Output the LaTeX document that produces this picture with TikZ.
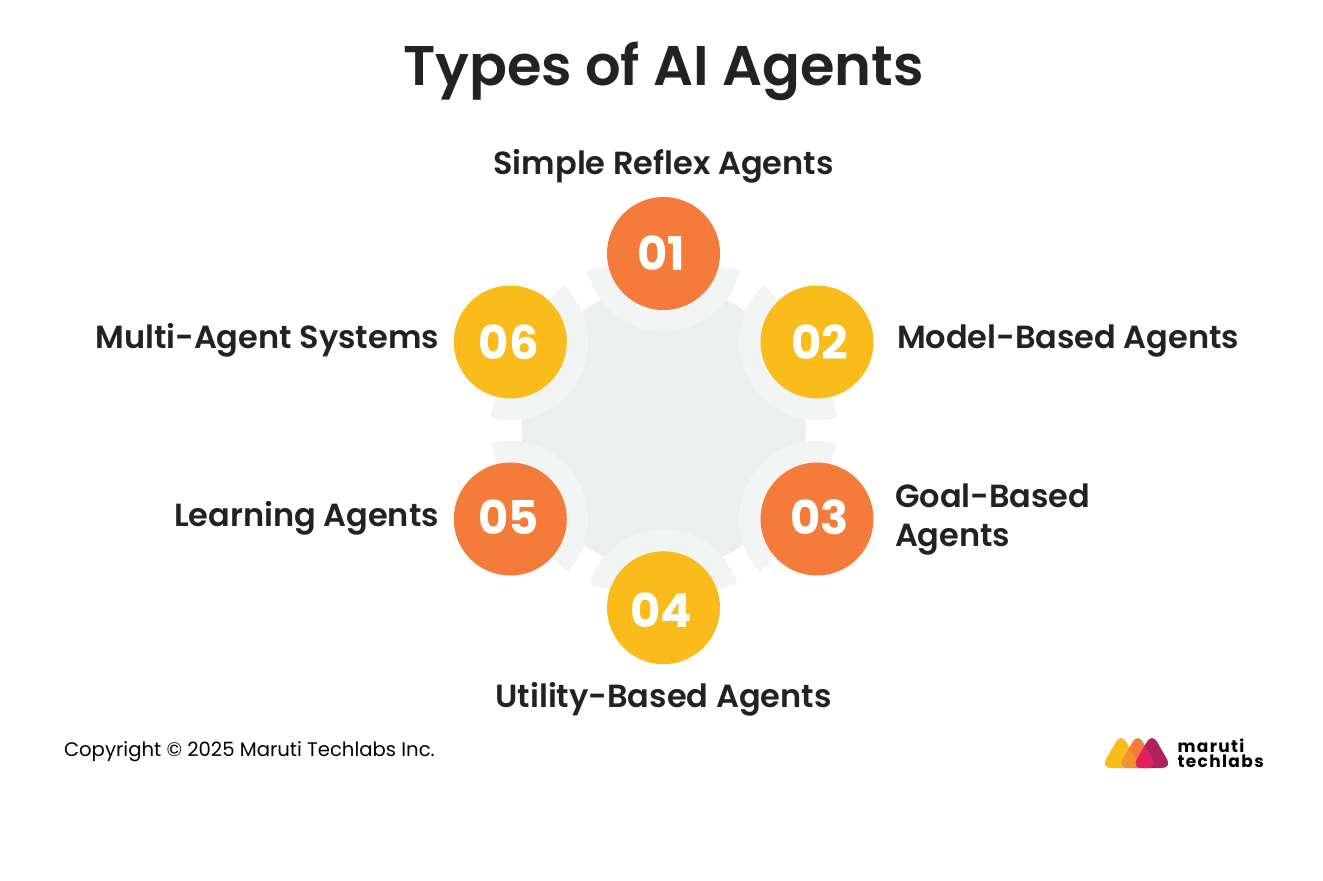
\documentclass[tikz,border=0pt]{standalone}
\usepackage{fontspec}
\setmainfont{Poppins}
\newfontfamily\semi{Poppins SemiBold}
\newfontfamily\logofont[LetterSpace=8]{Poppins Bold}
\usetikzlibrary{calc}
\definecolor{ink}{HTML}{222222}
\definecolor{orangec}{HTML}{F47B3A}
\definecolor{yellowc}{HTML}{F9BC1A}
\definecolor{ringc}{HTML}{F3F5F5}
\definecolor{blobc}{HTML}{EDEEEE}
\definecolor{magc}{HTML}{B0215F}
\definecolor{pinkc}{HTML}{E0205F}
\definecolor{dotc}{HTML}{F0932F}
\newcommand{\ringarc}[4]{%
  \fill[ringc] ($(#1,#2)+(#3-#4:78)$) arc[start angle=#3-#4,end angle=#3+#4,radius=78]
    -- ($(#1,#2)+(#3+#4:56)$) arc[start angle=#3+#4,end angle=#3-#4,radius=56] -- cycle;}
\newcommand{\logotri}[1]{(#1,733) -- ({#1+20},768) -- ({#1-20},768) -- cycle}
\tikzset{
  disc/.style={circle,minimum size=113pt,inner sep=0pt},
  orangedisc/.style={disc,fill=orangec},
  yellowdisc/.style={disc,fill=yellowc},
  num/.style={text=white,inner sep=0pt,font=\fontsize{46.5}{46.5}\selectfont\bfseries},
  lab/.style={text=ink,inner sep=0pt,font=\fontsize{32}{39}\semi},
  titletext/.style={text=ink,inner sep=0pt,font=\fontsize{55.9}{58}\semi},
  logotext/.style={text=black,inner sep=0pt,font=\fontsize{17}{17}\logofont},
}
\begin{document}
\begin{tikzpicture}[x=1pt,y=-1pt,line width=0pt]
\useasboundingbox (0,0) rectangle (1323,881);
\fill[white] (0,0) rectangle (1323,881);
% centre blob
\fill[blobc] (663.7,427.5) circle[radius=142];
% rings, drawn in a y-up frame
\begin{scope}[y=1pt]
\begin{scope}[shift={(0,-881)}]
\ringarc{663.5}{627.5}{270}{77.6}
\ringarc{817}{539}{209}{76}
\ringarc{817}{362}{149}{73.5}
\ringarc{663.5}{273.3}{90}{72}
\ringarc{510.3}{362}{31}{73.5}
\ringarc{510.3}{539}{331}{76}
\end{scope}
\end{scope}
% discs
\node[orangedisc] (n1) at (663.5,253.5) {};
\node[yellowdisc] (n2) at (817,342) {};
\node[orangedisc] (n3) at (817,519) {};
\node[yellowdisc] (n4) at (663.5,607.7) {};
\node[orangedisc] (n5) at (510.3,519) {};
\node[yellowdisc] (n6) at (510.3,342) {};
\node[num] (t1) at (661,253.3) {01};
\node[num] (t2) at (819.5,342) {02};
\node[num] (t3) at (819.5,517.5) {03};
\node[num] (t4) at (661.2,610.5) {04};
\node[num] (t5) at (508.8,517.5) {05};
\node[num] (t6) at (508.7,342) {06};
% title and labels
\node[titletext,anchor=base] (title) at (663.5,85.5) {Types of AI Agents};
\node[lab,anchor=base] (l1) at (663.5,174) {Simple Reflex Agents};
\node[lab,anchor=base west] (l2) at (897,348) {Model-Based Agents};
\node[lab,anchor=base west] (l3a) at (895,507) {Goal-Based};
\node[lab,anchor=base west] (l3b) at (895,546) {Agents};
\node[lab,anchor=base] (l4) at (663.5,707) {Utility-Based Agents};
\node[lab,anchor=base east] (l5) at (439,526) {Learning Agents};
\node[lab,anchor=base east] (l6) at (439,348) {Multi-Agent Systems};
\node[text=black,inner sep=0pt,anchor=base west,font=\fontsize{19.65}{20}\selectfont] (copy) at (64,756) {Copyright © 2025 Maruti Techlabs Inc.};
% logo
\fill[yellowc,rounded corners=10pt] \logotri{1121};
\fill[orangec,rounded corners=10pt] \logotri{1137.7};
\begin{scope}
\clip[rounded corners=10pt] \logotri{1121};
\fill[dotc,rounded corners=10pt] \logotri{1137.7};
\end{scope}
\fill[magc,rounded corners=10pt] \logotri{1152};
\begin{scope}
\clip[rounded corners=10pt] \logotri{1137.7};
\fill[pinkc,rounded corners=10pt] \logotri{1152};
\end{scope}
\node[logotext,anchor=base west] (m1) at (1177.5,752) {maruti};
\node[logotext,anchor=base west] (m2) at (1177.5,767) {techlabs};
\end{tikzpicture}
\end{document}
